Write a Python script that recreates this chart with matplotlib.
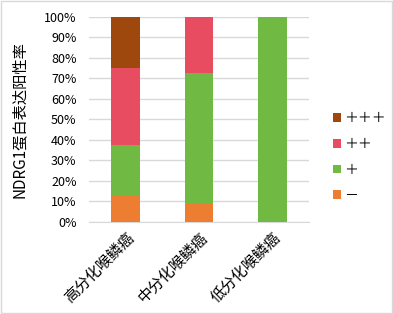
import numpy as np
import matplotlib
matplotlib.use("Agg")
import matplotlib.pyplot as plt
from matplotlib.patches import Rectangle

plt.rcParams['font.family'] = ['Noto Sans CJK SC', 'DejaVu Sans']

categories = ['高分化喉鳞癌', '中分化喉鳞癌', '低分化喉鳞癌']
grades = ['－', '＋', '＋＋', '＋＋＋']
neg = [12.5, 9.1, 0]
pos1 = [25.0, 63.6, 100]
pos2 = [37.5, 27.3, 0]
pos3 = [25.0, 0, 0]
colors = ['#ED7D31', '#70B942', '#E84C61', '#9E480E']

fig = plt.figure(figsize=(3.93, 3.14), dpi=100)
ax = fig.add_axes([0.2265, 0.293, 0.56, 0.653])

x = np.arange(len(categories))
bottom = np.zeros(len(categories))
handles = []
for vals, col, lab in zip([neg, pos1, pos2, pos3], colors, grades):
    b = ax.bar(x, vals, 0.39, bottom=bottom, color=col, label=lab,
               linewidth=0, zorder=3)
    handles.append(b)
    bottom += np.array(vals)

ax.set_xlim(-0.5, 2.5)
ax.set_ylim(0, 100)
ax.set_yticks(np.arange(0, 101, 10))
ax.set_yticklabels([f'{v}%' for v in range(0, 101, 10)], fontsize=9)
ax.yaxis.grid(True, color='#d9d9d9', linewidth=1, zorder=0)
ax.set_axisbelow(True)
for s in ['top', 'right', 'left']:
    ax.spines[s].set_visible(False)
ax.spines['bottom'].set_color('#d9d9d9')
ax.tick_params(axis='y', length=0, pad=9)
ax.tick_params(axis='x', length=0, pad=5)
ax.set_xticks(x)
ax.set_xticklabels(categories, rotation=45, ha='right', rotation_mode='anchor',
                   fontsize=11)
ax.set_ylabel('NDRG1蛋白表达阳性率', fontsize=11, labelpad=12)

leg = fig.legend(handles[::-1], grades[::-1], loc='center left',
                 bbox_to_anchor=(0.815, 0.50), frameon=False, fontsize=10,
                 handlelength=0.6, handleheight=0.6, handletextpad=0.2,
                 labelspacing=0.85)

fig.patches.append(Rectangle((0.003, 0.003), 0.994, 0.994, transform=fig.transFigure,
                             fill=False, edgecolor='#d9d9d9', linewidth=1))

fig.savefig('out.png', dpi=100)
